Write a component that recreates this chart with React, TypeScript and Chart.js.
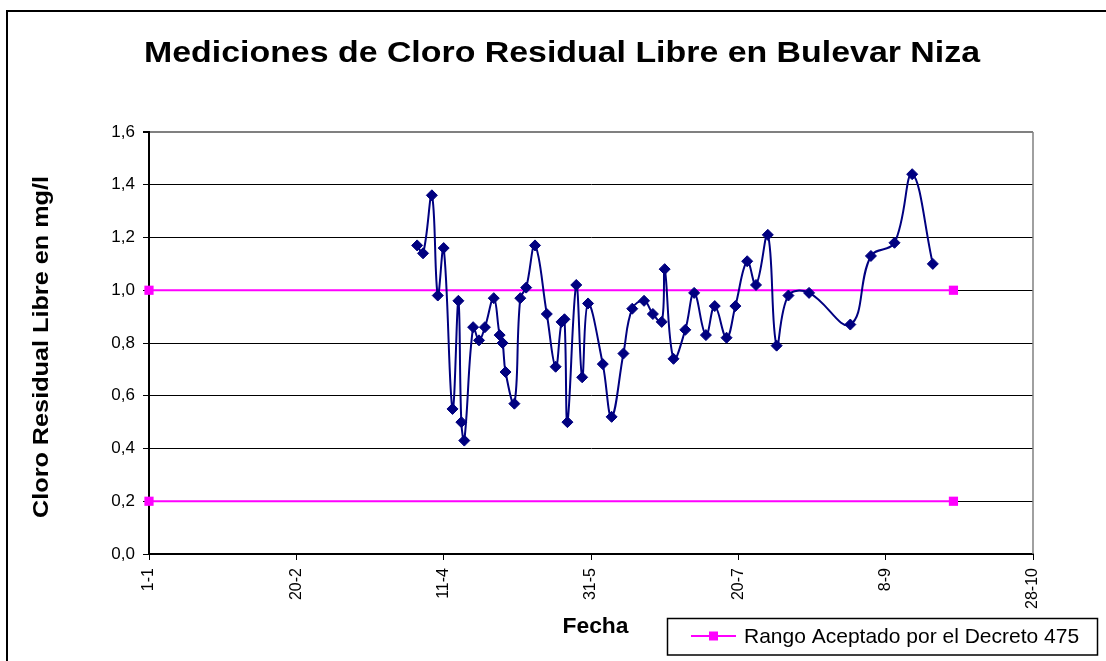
import { useEffect, useRef } from "react";
import { Chart, registerables } from "chart.js";

Chart.register(...registerables);

// ---- Data ----
const dayOfYear = [
  91, 93, 96, 98, 100, 103, 105, 106, 107, 110,
  112, 114, 117, 119, 120, 121, 124, 126, 128, 131,
  135, 138, 140, 141, 142, 145, 147, 149, 154, 157,
  161, 164, 168, 171, 174, 175, 178, 182, 185, 189,
  192, 196, 199, 203, 206, 210, 213, 217, 224, 238,
  245, 253, 259, 266,
];
const cloroValues = [
  1.17, 1.14, 1.36, 0.98, 1.16, 0.55, 0.96, 0.5, 0.43, 0.86,
  0.81, 0.86, 0.97, 0.83, 0.8, 0.69, 0.57, 0.97, 1.01, 1.17,
  0.91, 0.71, 0.88, 0.89, 0.5, 1.02, 0.67, 0.95, 0.72, 0.52,
  0.76, 0.93, 0.96, 0.91, 0.88, 1.08, 0.74, 0.85, 0.99, 0.83,
  0.94, 0.82, 0.94, 1.11, 1.02, 1.21, 0.79, 0.98, 0.99, 0.87,
  1.13, 1.18, 1.44, 1.1,
];
const rangeDays = [0, 273];
const rangeUpper = 1.0;
const rangeLower = 0.2;
const xTickLabels = ["1-1", "20-2", "11-4", "31-5", "20-7", "8-9", "28-10"];
const yTickLabels = ["0,0", "0,2", "0,4", "0,6", "0,8", "1,0", "1,2", "1,4", "1,6"];

const titleText = "Mediciones de Cloro Residual Libre en Bulevar Niza";
const yTitleText = "Cloro Residual Libre en mg/l";
const xTitleText = "Fecha";
const mainLabel = "Cloro Residual Libre";
const rangeLabel = "Rango Aceptado por el Decreto 475";

const FONT = '"Liberation Sans", Arial, Helvetica, sans-serif';
const NAVY = "#000080";
const PINK = "#FF00FF";

function fitText(
  ctx: CanvasRenderingContext2D,
  text: string,
  cx: number,
  cy: number,
  font: string,
  len: number,
  rotate: boolean
) {
  ctx.save();
  ctx.font = font;
  ctx.fillStyle = "#000";
  const w = ctx.measureText(text).width;
  ctx.translate(cx, cy);
  if (rotate) ctx.rotate(-Math.PI / 2);
  ctx.scale(len / w, 1);
  ctx.textAlign = "center";
  ctx.textBaseline = rotate ? "middle" : "alphabetic";
  ctx.fillText(text, 0, 0);
  ctx.restore();
}

const decorPlugin = {
  id: "decor",
  beforeDraw(chart: any) {
    const ctx = chart.ctx as CanvasRenderingContext2D;
    ctx.save();
    ctx.fillStyle = "#fff";
    ctx.fillRect(0, 0, chart.width, chart.height);
    // outer frame
    ctx.strokeStyle = "#000";
    ctx.lineWidth = 2;
    ctx.beginPath();
    ctx.moveTo(7, chart.height);
    ctx.lineTo(7, 11);
    ctx.lineTo(chart.width, 11);
    ctx.stroke();
    ctx.restore();
  },
  beforeDatasetsDraw(chart: any) {
    const ctx = chart.ctx as CanvasRenderingContext2D;
    const a = chart.chartArea;
    ctx.save();
    ctx.strokeStyle = "#808080";
    ctx.lineWidth = 1.5;
    ctx.beginPath();
    ctx.moveTo(a.right, a.top);
    ctx.lineTo(a.right, a.bottom);
    ctx.stroke();
    ctx.restore();
  },
  afterDraw(chart: any) {
    const ctx = chart.ctx as CanvasRenderingContext2D;
    fitText(ctx, titleText, 562, 62, `bold 29px ${FONT}`, 836, false);
    fitText(ctx, yTitleText, 42, 347, `bold 22px ${FONT}`, 342, true);
    fitText(ctx, xTitleText, 595.5, 633, `bold 22px ${FONT}`, 66, false);

    // legend box
    ctx.save();
    ctx.fillStyle = "#fff";
    ctx.fillRect(667, 618, 431, 37);
    ctx.strokeStyle = "#000";
    ctx.lineWidth = 1.5;
    ctx.strokeRect(667.5, 618.5, 430, 36.5);
    ctx.strokeStyle = PINK;
    ctx.lineWidth = 2;
    ctx.beginPath();
    ctx.moveTo(691, 636);
    ctx.lineTo(736, 636);
    ctx.stroke();
    ctx.fillStyle = PINK;
    ctx.fillRect(709, 631.5, 9, 9);
    ctx.fillStyle = "#000";
    ctx.font = `21px ${FONT}`;
    ctx.textAlign = "left";
    ctx.textBaseline = "alphabetic";
    ctx.fillText(rangeLabel, 744, 643);
    ctx.restore();
  },
};

export default function App() {
  const ref = useRef<HTMLCanvasElement | null>(null);

  useEffect(() => {
    if (!ref.current) return;
    const mainData = dayOfYear.map((d, i) => ({ x: d, y: cloroValues[i] }));
    const rangeData = [
      { x: rangeDays[0], y: rangeUpper },
      { x: rangeDays[1], y: rangeUpper },
      { x: rangeDays[1], y: null as any },
      { x: rangeDays[0], y: rangeLower },
      { x: rangeDays[1], y: rangeLower },
    ];
    const chart = new Chart(ref.current, {
      type: "line",
      data: {
        datasets: [
          {
            label: mainLabel,
            data: mainData,
            borderColor: NAVY,
            backgroundColor: NAVY,
            borderWidth: 2,
            pointStyle: "rectRot",
            pointRadius: 5.5,
            pointBorderWidth: 1,
            pointBorderColor: NAVY,
            pointBackgroundColor: NAVY,
            tension: 0.4,
            fill: false,
            clip: false,
          },
          {
            label: rangeLabel,
            data: rangeData,
            borderColor: PINK,
            backgroundColor: PINK,
            borderWidth: 2,
            pointStyle: "rect",
            pointRadius: 6.5,
            pointBorderWidth: 0,
            pointBackgroundColor: PINK,
            tension: 0,
            spanGaps: false,
            fill: false,
            clip: false,
          },
        ],
      },
      options: {
        responsive: false,
        animation: false,
        events: [],
        layout: { padding: { left: 0, right: 73, top: 132, bottom: 0 } },
        plugins: {
          legend: { display: false },
          title: { display: false },
          tooltip: { enabled: false },
        },
        scales: {
          x: {
            type: "linear",
            min: 0,
            max: 300,
            afterFit: (s: any) => {
              s.height = 107;
            },
            ticks: {
              stepSize: 50,
              autoSkip: false,
              minRotation: 90,
              maxRotation: 90,
              padding: 8,
              color: "#000",
              font: { family: FONT, size: 16 },
              callback: (_v: any, i: number) => xTickLabels[i],
            },
            grid: {
              display: true,
              drawOnChartArea: false,
              drawTicks: true,
              tickLength: 6,
              color: "#000",
              tickColor: "#000",
              lineWidth: 1,
            },
            border: { display: true, color: "#000", width: 2 },
          },
          y: {
            type: "linear",
            min: 0,
            max: 1.6,
            afterFit: (s: any) => {
              s.width = 149;
            },
            ticks: {
              stepSize: 0.2,
              padding: 8,
              color: "#000",
              font: { family: FONT, size: 17 },
              callback: (_v: any, i: number) => yTickLabels[i],
            },
            grid: {
              display: true,
              drawTicks: true,
              tickLength: 6,
              color: (c: any) =>
                c.tick && c.tick.value > 1.59 ? "#808080" : "#000",
              tickColor: "#000",
              lineWidth: (c: any) => (c.tick && c.tick.value > 1.59 ? 2 : 1),
            },
            border: { display: true, color: "#000", width: 2 },
          },
        },
      },
      plugins: [decorPlugin],
    });
    return () => chart.destroy();
  }, []);

  return (
    <div style={{ position: "absolute", left: 0, top: 0, width: 1106, height: 661 }}>
      <canvas ref={ref} width={1106} height={661} style={{ display: "block" }} />
    </div>
  );
}
